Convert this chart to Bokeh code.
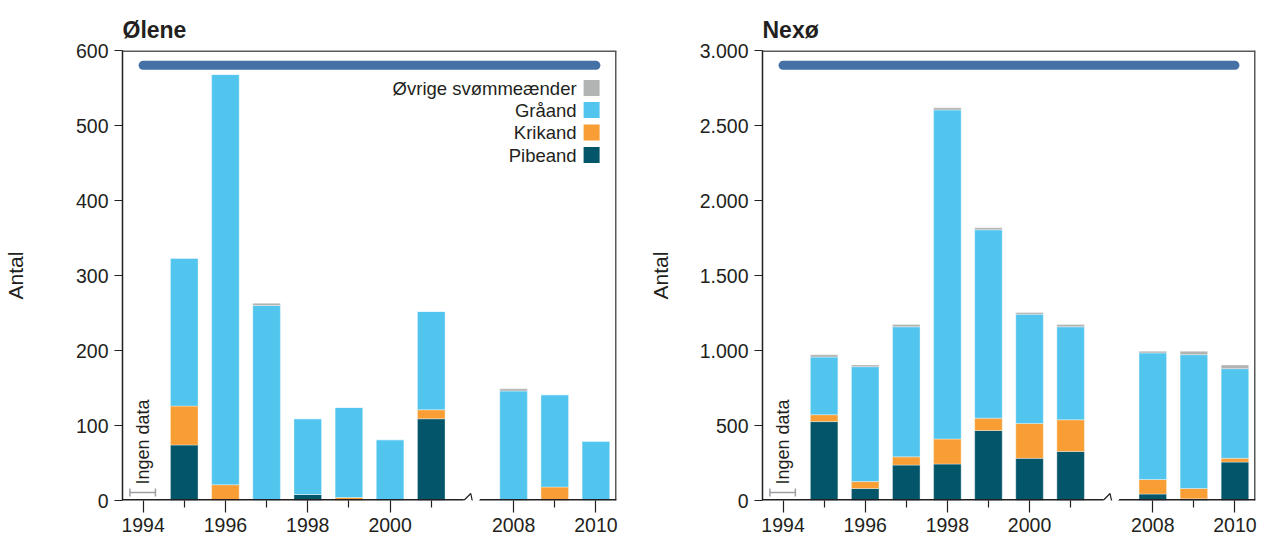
import math
from bokeh.plotting import figure
from bokeh.layouts import row
from bokeh.models import FixedTicker, ColumnDataSource, Range1d
from bokeh.core.properties import value
from bokeh.embed import file_html
from bokeh.resources import INLINE

# ---------------- data ----------------
years = [1995, 1996, 1997, 1998, 1999, 2000, 2001, 2008, 2009, 2010]
species = ["Pibeand", "Krikand", "Gråand", "Øvrige svømmeænder"]
colors = ["#03566a", "#f89e35", "#52c5ee", "#b2b4b4"]

oelene_pibeand = [74, 0, 0, 8, 0, 0, 109, 0, 0, 0]
oelene_krikand = [52, 21, 0, 0, 4, 0, 12, 0, 18, 0]
oelene_graaand = [197, 547, 260, 101, 120, 81, 131, 146, 123, 79]
oelene_oevrige = [0, 0, 3, 0, 0, 0, 0, 3, 0, 0]

nexoe_pibeand = [526, 80, 236, 243, 467, 281, 327, 43, 11, 256]
nexoe_krikand = [46, 46, 55, 167, 82, 232, 211, 97, 69, 25]
nexoe_graaand = [384, 766, 867, 2194, 1256, 729, 620, 844, 892, 598]
nexoe_oevrige = [16, 12, 16, 14, 14, 12, 16, 11, 23, 25]

tick_years = [1994, 1996, 1998, 2000, 2008, 2010]
minor_years = [1995, 1997, 1999, 2001, 2009]
period = [1994, 2010]
no_data_year = 1994

oelene_yticks = [0, 100, 200, 300, 400, 500, 600]
oelene_ylabels = ["0", "100", "200", "300", "400", "500", "600"]
nexoe_yticks = [0, 500, 1000, 1500, 2000, 2500, 3000]
nexoe_ylabels = ["0", "500", "1.000", "1.500", "2.000", "2.500", "3.000"]

FONT = "Liberation Sans"
TXT = "#231f20"
TOP = 50
FRAME_H = 450
BOTTOM = 39
H = TOP + FRAME_H + BOTTOM


def pos(y):
    # broken axis: 1994..2001, gap, 2008..2010
    return y - 1994 if y <= 2001 else y - 1999


def make_chart(title, ymax, pib, kri, gra, ovr, yticks, ylabels, W, BL, BR,
               label_standoff, legend=False):
    fw = W - BL - BR
    px2x = 12.0 / fw
    px2y = ymax / FRAME_H
    p = figure(width=W, height=H, x_range=Range1d(-0.5, 11.5),
               y_range=Range1d(0, ymax), output_backend="svg",
               toolbar_location=None, min_border_left=BL, min_border_right=BR,
               min_border_top=TOP, min_border_bottom=BOTTOM, title=title)
    p.outline_line_color = None
    p.grid.visible = False
    p.title.text_font = FONT
    p.title.text_font_size = "23px"
    p.title.text_font_style = "bold"
    p.title.text_color = TXT
    p.title.align = "left"
    p.title.offset = 0
    p.title.standoff = 15

    src = ColumnDataSource(dict(x=[pos(y) for y in years], pib=pib, kri=kri,
                                gra=gra, ovr=ovr))
    p.vbar_stack(["pib", "kri", "gra", "ovr"], x="x", width=0.67, source=src,
                 fill_color=colors, line_color="white", line_width=0.5,
                 line_alpha=0.7)

    # period bar
    p.line(x=[pos(period[0]), pos(period[1])], y=[ymax * 0.967] * 2,
           line_width=9, line_cap="round", color="#4571a7")

    # frame box (top, right) and broken baseline
    box = "#58595b"
    p.line(x=[-0.5, 11.5], y=[ymax, ymax], line_width=3, color=box)
    p.line(x=[11.5, 11.5], y=[0, ymax], line_width=3, color=box)
    b0, b1 = 7.79, 8.18
    p.line(x=[-0.5, b0], y=[0, 0], line_width=3, color=TXT)
    p.line(x=[b1, 11.5], y=[0, 0], line_width=3, color=TXT)
    p.line(x=[b0, 7.96, 8.03, b1], y=[0, 7 * px2y, -7 * px2y, 0],
           line_width=1.2, color=TXT)

    # no data marker
    xn = pos(no_data_year)
    yb = 8 * px2y
    p.segment(x0=[xn - 0.32, xn - 0.32, xn + 0.3],
              y0=[yb, yb - 4 * px2y, yb - 4 * px2y],
              x1=[xn + 0.3, xn - 0.32, xn + 0.3],
              y1=[yb, yb + 4 * px2y, yb + 4 * px2y],
              color="#9d9fa2", line_width=1.5)
    p.text(x=[xn], y=[16 * px2y], text=["Ingen data"], angle=math.pi / 2,
           text_align="left", text_baseline="middle",
           text_font=value(FONT), text_font_size="18px", text_color=TXT)

    if legend:
        sx = 11.5 - 25 * px2x
        offs = [37.5, 59.5, 82.0, 104.5]
        ys = [ymax - o * px2y for o in offs]
        order = [3, 2, 1, 0]
        p.rect(x=[sx] * 4, y=ys, width=16, height=16, width_units="screen",
               height_units="screen", fill_color=[colors[i] for i in order],
               line_color=None)
        p.text(x=[sx] * 4, y=ys, text=[species[i] for i in order],
               x_offset=-15, text_align="right", text_baseline="middle",
               text_font=value(FONT), text_font_size="18.5px", text_color=TXT)

    # axes
    xa = p.xaxis[0]
    xa.ticker = FixedTicker(ticks=[pos(y) for y in tick_years],
                            minor_ticks=[pos(y) for y in minor_years])
    xa.major_label_overrides = {pos(y): str(y) for y in tick_years}
    xa.axis_line_color = None
    xa.major_tick_in = 0
    xa.major_tick_out = 12
    xa.minor_tick_in = 0
    xa.minor_tick_out = 7
    xa.major_tick_line_color = TXT
    xa.minor_tick_line_color = TXT
    xa.major_tick_line_width = 1.2
    xa.minor_tick_line_width = 1.2
    xa.major_label_text_font = FONT
    xa.major_label_text_font_size = "19.5px"
    xa.major_label_text_color = TXT
    xa.major_label_standoff = 5

    ya = p.yaxis[0]
    ya.ticker = FixedTicker(ticks=yticks)
    ya.major_label_overrides = {t: l for t, l in zip(yticks, ylabels)}
    ya.axis_line_color = TXT
    ya.axis_line_width = 1.5
    ya.major_tick_in = 0
    ya.major_tick_out = 8
    ya.minor_tick_line_color = None
    ya.major_tick_line_color = TXT
    ya.major_tick_line_width = 1.2
    ya.major_label_text_font = FONT
    ya.major_label_text_font_size = "19.5px"
    ya.major_label_text_color = TXT
    ya.major_label_standoff = 6
    ya.axis_label = "Antal"
    ya.axis_label_text_font = FONT
    ya.axis_label_text_font_size = "21px"
    ya.axis_label_text_font_style = "normal"
    ya.axis_label_text_color = TXT
    ya.axis_label_standoff = label_standoff
    return p


p1 = make_chart("Ølene", 600, oelene_pibeand, oelene_krikand, oelene_graaand,
                oelene_oevrige, oelene_yticks, oelene_ylabels,
                W=644, BL=120, BR=28, label_standoff=46, legend=True)
p2 = make_chart("Nexø", 3000, nexoe_pibeand, nexoe_krikand, nexoe_graaand,
                nexoe_oevrige, nexoe_yticks, nexoe_ylabels,
                W=613, BL=118, BR=2, label_standoff=25)

layout = row(p1, p2)
open("out.html", "w").write(file_html(layout, INLINE))
